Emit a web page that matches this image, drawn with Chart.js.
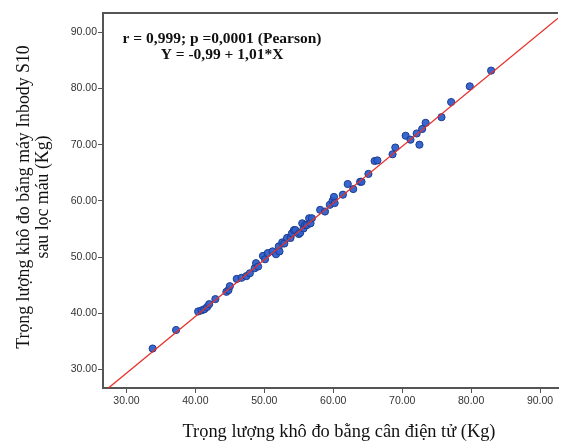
<!DOCTYPE html>
<html><head><meta charset="utf-8">
<script src="https://cdn.jsdelivr.net/npm/chart.js@4.4.1/dist/chart.umd.min.js"></script>
<style>html,body{margin:0;padding:0;background:#fff;} canvas{display:block;}</style>
</head><body>
<canvas id="c" width="563" height="441"></canvas>
<script>
// Dry weight measured with electronic scale (x) vs Inbody S10 after dialysis (y)
const canScale = [33.8,37.2,40.4,40.9,41.3,41.7,42.0,42.9,44.5,44.8,45.0,46.0,46.7,47.4,47.9,48.6,48.8,49.1,49.8,50.1,50.5,51.2,51.7,52.1,52.2,52.6,52.9,53.3,53.8,54.0,54.3,54.5,55.0,55.2,55.5,55.7,55.9,56.2,56.5,56.7,56.9,58.1,58.8,59.5,59.9,60.1,60.2,61.4,62.1,62.9,63.9,64.1,65.1,66.0,66.4,68.6,69.0,70.5,71.2,72.1,72.5,72.9,73.4,75.7,77.1,79.8,82.9];
const inbody   = [33.7,37.0,40.3,40.5,40.7,41.1,41.6,42.5,43.8,44.1,44.8,46.1,46.3,46.6,47.1,48.0,48.9,48.3,50.2,49.6,50.7,51.0,50.5,51.9,51.0,52.6,52.4,53.4,53.4,54.2,54.8,54.8,54.1,54.3,56.0,55.1,55.7,55.7,56.9,56.0,56.9,58.4,58.1,59.3,60.0,60.7,59.6,61.1,63.0,62.1,63.4,63.4,64.8,67.1,67.2,68.3,69.5,71.6,70.9,72.0,70.0,72.8,73.9,74.9,77.6,80.4,83.2];
const xTickValues = [30,40,50,60,70,80,90];
const yTickValues = [30,40,50,60,70,80,90];
const xRange = [26.6, 92.6];
const yRange = [26.67, 93.46];
const fitIntercept = -0.99;
const fitSlope = 1.01;
const statLines = ['r = 0,999; p =0,0001 (Pearson)', 'Y = -0,99 + 1,01*X'];
const xTitle = 'Trọng lượng khô đo bằng cân điện tử (Kg)';
const yTitle = ['Trọng lượng khô đo bằng máy Inbody S10', 'sau lọc máu (Kg)'];

const textPlugin = {
  id: 'texts',
  afterDraw(chart) {
    const ctx = chart.ctx, a = chart.chartArea;
    ctx.save();
    // top frame line
    ctx.strokeStyle = '#555';
    ctx.lineWidth = 2;
    ctx.beginPath();
    ctx.moveTo(a.left - 1, a.top);
    ctx.lineTo(a.right, a.top);
    ctx.stroke();
    ctx.fillStyle = '#111';
    ctx.textAlign = 'center';
    ctx.textBaseline = 'middle';
    ctx.font = 'bold 15.5px "Liberation Serif"';
    ctx.fillText(statLines[0], 222, 38.5);
    ctx.fillText(statLines[1], 222, 55);
    ctx.font = '18.4px "Liberation Serif"';
    ctx.fillText(xTitle, 339, 432);
    ctx.font = '17.8px "Liberation Serif"';
    ctx.save();
    ctx.translate(24, 197);
    ctx.rotate(-Math.PI / 2);
    ctx.fillText(yTitle[0], 0, 0);
    ctx.restore();
    ctx.save();
    ctx.translate(43, 197);
    ctx.rotate(-Math.PI / 2);
    ctx.fillText(yTitle[1], 0, 0);
    ctx.restore();
    ctx.restore();
  }
};

const tickFont = { family: '"Liberation Sans", Arial', size: 10.5 };

new Chart(document.getElementById('c'), {
  type: 'scatter',
  data: {
    datasets: [
      {
        type: 'line',
        data: xRange.map(x => ({ x, y: fitIntercept + fitSlope * x })),
        borderColor: '#e8302a',
        borderWidth: 1.3,
        pointRadius: 0,
        fill: false,
        order: 1
      },
      {
        data: canScale.map((x, i) => ({ x, y: inbody[i] })),
        backgroundColor: 'rgba(45,95,205,0.95)',
        borderColor: '#1d3c8f',
        borderWidth: 1,
        pointRadius: 3.6,
        order: 2
      }
    ]
  },
  options: {
    responsive: false,
    animation: false,
    devicePixelRatio: 1,
    layout: { padding: { top: 13, right: -2, bottom: 0, left: 0 } },
    plugins: { legend: { display: false }, tooltip: { enabled: false } },
    scales: {
      x: {
        type: 'linear', min: xRange[0], max: xRange[1],
        afterBuildTicks(s) { s.ticks = xTickValues.map(v => ({ value: v })); },
        afterFit(s) { s.height = 53; },
        ticks: { callback: v => Number(v).toFixed(2), font: tickFont, color: '#333', padding: 2, maxRotation: 0, autoSkip: false },
        grid: { display: true, drawOnChartArea: false, drawTicks: true, tickLength: 5, color: '#555', lineWidth: 1 },
        border: { display: true, color: '#555', width: 2 }
      },
      y: {
        type: 'linear', min: yRange[0], max: yRange[1],
        afterBuildTicks(s) { s.ticks = yTickValues.map(v => ({ value: v })); },
        afterFit(s) { s.width = 103; },
        ticks: { callback: v => Number(v).toFixed(2), font: tickFont, color: '#333', padding: 1, autoSkip: false },
        grid: { display: true, drawOnChartArea: false, drawTicks: true, tickLength: 5, color: '#555', lineWidth: 1 },
        border: { display: true, color: '#555', width: 2 }
      }
    }
  },
  plugins: [textPlugin]
});
</script>
</body></html>
